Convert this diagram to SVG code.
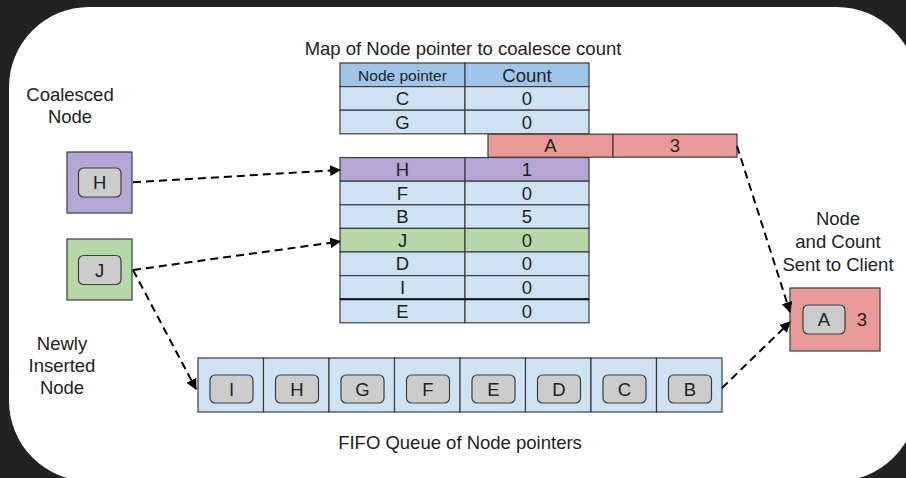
<svg xmlns="http://www.w3.org/2000/svg" width="906" height="478" viewBox="0 0 906 478">
<style>
text{font-family:"Liberation Sans",Arial,sans-serif;fill:#222;font-size:18.5px;text-anchor:middle;dominant-baseline:central}
.cell{stroke:#3c3c3c;stroke-width:1.2}
.blue{fill:#cfe2f3}
.hdr{fill:#9fc5e8}
.pur{fill:#b4a7d6}
.grn{fill:#b6d7a8}
.red{fill:#ea9999}
.chip{fill:#cccccc;stroke:#3c3c3c;stroke-width:1.2}
.dash{fill:none;stroke:#000;stroke-width:2;stroke-dasharray:8 5}
</style>
<defs>
<marker id="ah" viewBox="0 0 10 10" refX="9" refY="5" markerWidth="5.5" markerHeight="5.5" orient="auto" markerUnits="strokeWidth">
<path d="M0,0 L10,5 L0,10 z" fill="#000"/>
</marker>
</defs>
<rect width="906" height="478" fill="#222"/>
<rect x="9" y="7" width="908" height="474" rx="80" ry="80" fill="#fff"/>

<text x="463" y="48">Map of Node pointer to coalesce count</text>

<g id="map-table">
<rect class="cell hdr" x="340" y="63" width="125" height="23.6"/>
<rect class="cell hdr" x="465" y="63" width="124" height="23.6"/>
<text x="402.5" y="75" style="font-size:15.5px">Node pointer</text>
<text x="527" y="75">Count</text>
<rect class="cell blue" x="340" y="86.6" width="125" height="23.6"/>
<rect class="cell blue" x="465" y="86.6" width="124" height="23.6"/>
<text x="402.5" y="98.4">C</text><text x="527" y="98.4">0</text>
<rect class="cell blue" x="340" y="110.2" width="125" height="23.6"/>
<rect class="cell blue" x="465" y="110.2" width="124" height="23.6"/>
<text x="402.5" y="122">G</text><text x="527" y="122">0</text>
<rect class="cell pur" x="340" y="157.6" width="125" height="23.6"/>
<rect class="cell pur" x="465" y="157.6" width="124" height="23.6"/>
<text x="402.5" y="169.4">H</text><text x="527" y="169.4">1</text>
<rect class="cell blue" x="340" y="181.2" width="125" height="23.6"/>
<rect class="cell blue" x="465" y="181.2" width="124" height="23.6"/>
<text x="402.5" y="193">F</text><text x="527" y="193">0</text>
<rect class="cell blue" x="340" y="204.8" width="125" height="23.6"/>
<rect class="cell blue" x="465" y="204.8" width="124" height="23.6"/>
<text x="402.5" y="216.6">B</text><text x="527" y="216.6">5</text>
<rect class="cell grn" x="340" y="228.4" width="125" height="23.6"/>
<rect class="cell grn" x="465" y="228.4" width="124" height="23.6"/>
<text x="402.5" y="240.2">J</text><text x="527" y="240.2">0</text>
<rect class="cell blue" x="340" y="252" width="125" height="23.6"/>
<rect class="cell blue" x="465" y="252" width="124" height="23.6"/>
<text x="402.5" y="263.8">D</text><text x="527" y="263.8">0</text>
<rect class="cell blue" x="340" y="275.6" width="125" height="23.6"/>
<rect class="cell blue" x="465" y="275.6" width="124" height="23.6"/>
<text x="402.5" y="287.4">I</text><text x="527" y="287.4">0</text>
<rect class="cell blue" x="340" y="299.2" width="125" height="23.6"/>
<rect class="cell blue" x="465" y="299.2" width="124" height="23.6"/>
<line x1="340" y1="299.2" x2="589" y2="299.2" stroke="#111" stroke-width="2"/>
<text x="402.5" y="311">E</text><text x="527" y="311">0</text>
</g>

<g id="row-A">
<rect class="cell red" x="488" y="134.2" width="125" height="23"/>
<rect class="cell red" x="613" y="134.2" width="124" height="23"/>
<text x="550.5" y="145.7">A</text><text x="675" y="145.7">3</text>
</g>

<text x="70" y="94">Coalesced</text>
<text x="70" y="116">Node</text>

<g id="node-H">
<rect class="cell pur" x="67" y="152" width="65" height="61"/>
<rect class="chip" x="78.5" y="168" width="42.5" height="29" rx="5"/>
<text x="99.7" y="182.5">H</text>
</g>

<g id="node-J">
<rect class="cell grn" x="67" y="239" width="65" height="61"/>
<rect class="chip" x="78.5" y="255.5" width="42.5" height="29" rx="5"/>
<text x="99.7" y="270">J</text>
</g>

<text x="62" y="343">Newly</text>
<text x="62" y="365">Inserted</text>
<text x="62" y="387">Node</text>

<g id="queue">
<rect class="cell blue" x="198" y="358" width="65.5" height="54"/>
<rect class="cell blue" x="263.5" y="358" width="65.5" height="54"/>
<rect class="cell blue" x="329" y="358" width="65.5" height="54"/>
<rect class="cell blue" x="394.5" y="358" width="65.5" height="54"/>
<rect class="cell blue" x="460" y="358" width="65.5" height="54"/>
<rect class="cell blue" x="525.5" y="358" width="65.5" height="54"/>
<rect class="cell blue" x="591" y="358" width="65.5" height="54"/>
<rect class="cell blue" x="656.5" y="358" width="65.5" height="54"/>
<rect class="chip" x="210" y="375" width="43" height="28" rx="5"/><text x="231.5" y="389">I</text>
<rect class="chip" x="275.5" y="375" width="43" height="28" rx="5"/><text x="297" y="389">H</text>
<rect class="chip" x="341" y="375" width="43" height="28" rx="5"/><text x="362.5" y="389">G</text>
<rect class="chip" x="406.5" y="375" width="43" height="28" rx="5"/><text x="428" y="389">F</text>
<rect class="chip" x="472" y="375" width="43" height="28" rx="5"/><text x="493.5" y="389">E</text>
<rect class="chip" x="537.5" y="375" width="43" height="28" rx="5"/><text x="559" y="389">D</text>
<rect class="chip" x="603" y="375" width="43" height="28" rx="5"/><text x="624.5" y="389">C</text>
<rect class="chip" x="668.5" y="375" width="43" height="28" rx="5"/><text x="690" y="389">B</text>
</g>
<text x="460" y="442">FIFO Queue of Node pointers</text>

<text x="838" y="218">Node</text>
<text x="838" y="241">and Count</text>
<text x="838" y="264">Sent to Client</text>

<g id="node-A-sent">
<rect class="cell red" x="790" y="288" width="90" height="63"/>
<rect class="chip" x="803" y="305" width="42" height="29" rx="5"/>
<text x="824" y="319.5">A</text>
<text x="862" y="319.5">3</text>
</g>

<g id="connectors">
<line class="dash" x1="133" y1="182.3" x2="340" y2="170" marker-end="url(#ah)"/>
<line class="dash" x1="133" y1="270" x2="340" y2="241.5" marker-end="url(#ah)"/>
<line class="dash" x1="133" y1="270" x2="196" y2="389" marker-end="url(#ah)"/>
<line class="dash" x1="737" y1="146" x2="790" y2="312" marker-end="url(#ah)"/>
<line class="dash" x1="722" y1="388" x2="790" y2="322" marker-end="url(#ah)"/>
</g>
</svg>
